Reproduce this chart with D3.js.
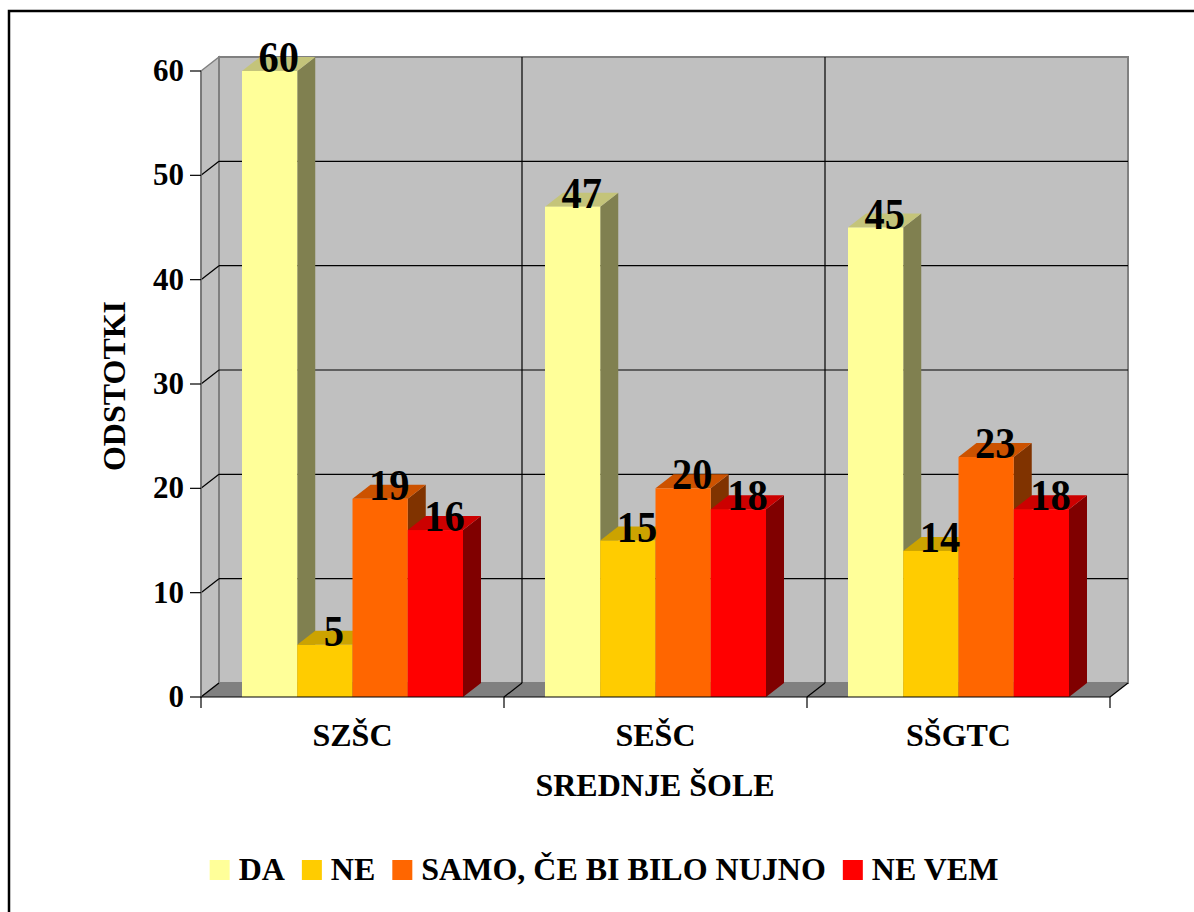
<!DOCTYPE html>
<html>
<head>
<meta charset="utf-8">
<script src="https://cdn.jsdelivr.net/npm/d3@7"></script>
<style>
  body { margin: 0; background: #fff; }
  svg text { font-family: "Liberation Serif", "DejaVu Serif", "Times New Roman", Times, serif; font-weight: bold; fill: #000; }
</style>
</head>
<body>
<div class="Graph"></div>
<script>
// data
var categories = ["SZŠC", "SEŠC", "SŠGTC"];
var series = ["DA", "NE", "SAMO, ČE BI BILO NUJNO", "NE VEM"];
var valuesDA = [60, 47, 45];
var valuesNE = [5, 15, 14];
var valuesSamo = [19, 20, 23];
var valuesNeVem = [16, 18, 18];
var yTicks = [0, 10, 20, 30, 40, 50, 60];

var values = [valuesDA, valuesNE, valuesSamo, valuesNeVem];
var front = ["#FFFF99", "#FFCC00", "#FF6600", "#FF0000"];
var top_c = ["#C4C47A", "#CCA300", "#CC5200", "#CC0000"];
var side = ["#808050", "#806600", "#803300", "#800000"];

var W = 1194, H = 912;
var dx = 18, dy = 14; // depth of the 3d box
var FONT = '"Liberation Serif", "DejaVu Serif", serif';

var svg = d3.select(".Graph")
    .append("svg")
    .attr("width", W)
    .attr("height", H);

// outer frame
svg.append("rect")
    .attr("x", 9).attr("y", 11)
    .attr("width", 1220).attr("height", 940)
    .attr("fill", "none")
    .attr("stroke", "#000")
    .attr("stroke-width", 2.5);

var y = d3.scaleLinear().domain([0, 60]).range([697, 71]);
var x0 = d3.scaleBand().domain(categories).range([201, 1110]);
var x1 = d3.scaleBand().domain(series).range([0, x0.bandwidth()]).paddingOuter(0.742);

var xl = x0.range()[0], xr = x0.range()[1];
var y0 = y(0), yTop = y(60);

// left side wall
svg.append("polygon")
    .attr("points", [[xl, y0], [xl, yTop], [xl + dx, yTop - dy], [xl + dx, y0 - dy]].join(" "))
    .attr("fill", "#C0C0C0")
    .attr("stroke", "#808080")
    .attr("stroke-width", 1.5);

// back wall
svg.append("rect")
    .attr("x", xl + dx).attr("y", yTop - dy)
    .attr("width", xr - xl).attr("height", y0 - yTop)
    .attr("fill", "#C0C0C0")
    .attr("stroke", "#808080")
    .attr("stroke-width", 2);

// gridlines
yTicks.filter(t => t > 0 && t < 60).forEach(t => {
    svg.append("line")
        .attr("x1", xl + dx).attr("x2", xr + dx)
        .attr("y1", y(t) - dy).attr("y2", y(t) - dy)
        .attr("stroke", "#000").attr("stroke-width", 1.2);
    svg.append("line")
        .attr("x1", xl).attr("x2", xl + dx)
        .attr("y1", y(t)).attr("y2", y(t) - dy)
        .attr("stroke", "#000").attr("stroke-width", 1.2);
});

// category separators on the back wall
categories.slice(1).forEach(c => {
    svg.append("line")
        .attr("x1", x0(c) + dx).attr("x2", x0(c) + dx)
        .attr("y1", yTop - dy).attr("y2", y0 - dy)
        .attr("stroke", "#000").attr("stroke-width", 1.2);
});

// floor
svg.append("polygon")
    .attr("points", [[xl, y0], [xr, y0], [xr + dx, y0 - dy], [xl + dx, y0 - dy]].join(" "))
    .attr("fill", "#808080");

var seps = categories.map(c => x0(c)).concat([xr]);
seps.forEach(sx => {
    svg.append("line")
        .attr("x1", sx).attr("x2", sx + dx)
        .attr("y1", y0).attr("y2", y0 - dy)
        .attr("stroke", "#000").attr("stroke-width", 1.2);
    svg.append("line")
        .attr("x1", sx).attr("x2", sx)
        .attr("y1", y0).attr("y2", y0 + 11)
        .attr("stroke", "#000").attr("stroke-width", 1.2);
});

// y axis
svg.append("line")
    .attr("x1", xl).attr("x2", xl)
    .attr("y1", yTop).attr("y2", y0)
    .attr("stroke", "#707070").attr("stroke-width", 1.5);

yTicks.forEach(t => {
    svg.append("line")
        .attr("x1", xl - 11).attr("x2", xl)
        .attr("y1", y(t)).attr("y2", y(t))
        .attr("stroke", "#000").attr("stroke-width", 1.2);
    svg.append("text")
        .attr("x", 184).attr("y", y(t) + 10)
        .attr("text-anchor", "end")
        .attr("font-family", FONT)
        .style("font-size", "31px")
        .text(t);
});

// bars (left to right so each front face hides the side of the bar before)
categories.forEach((c, ci) => {
    series.forEach((s, si) => {
        var v = values[si][ci];
        var bx = x0(c) + x1(s), bw = x1.bandwidth();
        var by = y(v);
        var g = svg.append("g");
        g.append("polygon")
            .attr("points", [[bx + bw, by], [bx + bw + dx, by - dy], [bx + bw + dx, y0 - dy], [bx + bw, y0]].join(" "))
            .attr("fill", side[si]);
        g.append("polygon")
            .attr("points", [[bx, by], [bx + dx, by - dy], [bx + bw + dx, by - dy], [bx + bw, by]].join(" "))
            .attr("fill", top_c[si]);
        g.append("rect")
            .attr("x", bx).attr("y", by)
            .attr("width", bw).attr("height", y0 - by)
            .attr("fill", front[si]);
    });
});

// value labels on top
categories.forEach((c, ci) => {
    series.forEach((s, si) => {
        var v = values[si][ci];
        var lx = x0(c) + x1(s) + x1.bandwidth() / 2 + dx / 2;
        svg.append("text")
            .attr("transform", "translate(" + lx + "," + (y(v) + 1) + ") scale(0.92,1)")
            .attr("text-anchor", "middle")
            .attr("font-family", FONT)
            .style("font-size", "44px")
            .text(v);
    });
});

// x axis line
svg.append("line")
    .attr("x1", xl).attr("x2", xr)
    .attr("y1", y0).attr("y2", y0)
    .attr("stroke", "#000").attr("stroke-width", 1.2);

categories.forEach(c => {
    svg.append("text")
        .attr("x", x0(c) + x0.bandwidth() / 2)
        .attr("y", 746)
        .attr("text-anchor", "middle")
        .attr("font-family", FONT)
        .style("font-size", "32px")
        .text(c);
});

svg.append("text")
    .attr("x", 655).attr("y", 796)
    .attr("text-anchor", "middle")
    .attr("font-family", FONT)
    .style("font-size", "32px")
    .text("SREDNJE ŠOLE");

svg.append("text")
    .attr("transform", "translate(125,386) rotate(-90)")
    .attr("text-anchor", "middle")
    .attr("font-family", FONT)
    .style("font-size", "32px")
    .text("ODSTOTKI");

// legend
var leg = svg.append("g");
var lx = 0;
series.forEach((s, si) => {
    leg.append("rect")
        .attr("x", lx).attr("y", 860)
        .attr("width", 20).attr("height", 20)
        .attr("fill", front[si]);
    var t = leg.append("text")
        .attr("x", lx + 29).attr("y", 880)
        .attr("font-family", FONT)
        .style("font-size", "32px")
        .text(s);
    lx += 29 + t.node().getComputedTextLength() + 17;
});
lx -= 17;
leg.attr("transform", "translate(" + (604 - lx / 2) + ",0)");
</script>
</body>
</html>
